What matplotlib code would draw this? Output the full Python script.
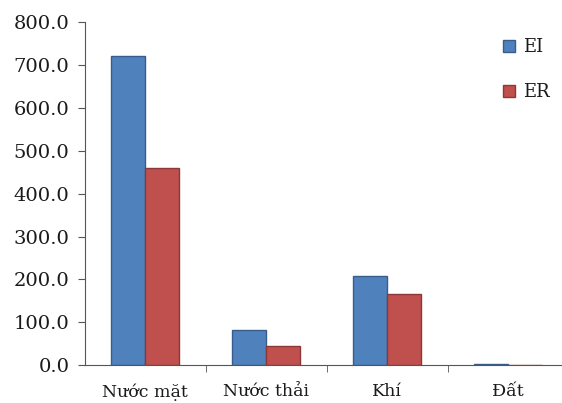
import matplotlib.pyplot as plt
import numpy as np

categories = ["Nước mặt", "Nước thải", "Khí", "Đất"]
ei_values = [720.0, 82.0, 208.0, 3.0]
er_values = [459.0, 45.0, 167.0, 0.5]
y_ticks = [0, 100, 200, 300, 400, 500, 600, 700, 800]

plt.rcParams['font.family'] = ['DejaVu Serif']
plt.rcParams['text.color'] = '#1a1a1a'

fig = plt.figure(figsize=(5.62, 4.03), dpi=100)
ax = fig.add_axes([0.151, 0.094, 0.861, 0.851])

x = np.arange(len(categories))
w = 0.28
ax.bar(x - w / 2, ei_values, w, color='#4F81BD', edgecolor='#385D8A', linewidth=1, label='EI')
ax.bar(x + w / 2, er_values, w, color='#C0504D', edgecolor='#8C3836', linewidth=1, label='ER')

ax.set_xlim(-0.5, 3.5)
ax.set_ylim(0, 800)
ax.set_yticks(y_ticks)
ax.set_yticklabels(["%.1f" % v for v in y_ticks], fontsize=14, color='#1a1a1a')
ax.set_xticks(x)
ax.set_xticklabels(categories, fontsize=12.5, color='#1a1a1a')
ax.tick_params(axis='x', length=0, pad=13)
ax.set_xticks(np.arange(0.5, 3.5, 1), minor=True)
ax.tick_params(axis='x', which='minor', length=5, color='#555555')
ax.tick_params(axis='y', length=5, color='#555555', pad=6)

for s in ['top', 'right']:
    ax.spines[s].set_visible(False)
for s in ['left', 'bottom']:
    ax.spines[s].set_color('#555555')

ax.legend(loc='upper left', bbox_to_anchor=(0.83, 1.0), frameon=False,
          handlelength=0.7, handleheight=0.7, handletextpad=0.4,
          labelspacing=1.5, fontsize=13)

fig.savefig('out.png', dpi=100)
